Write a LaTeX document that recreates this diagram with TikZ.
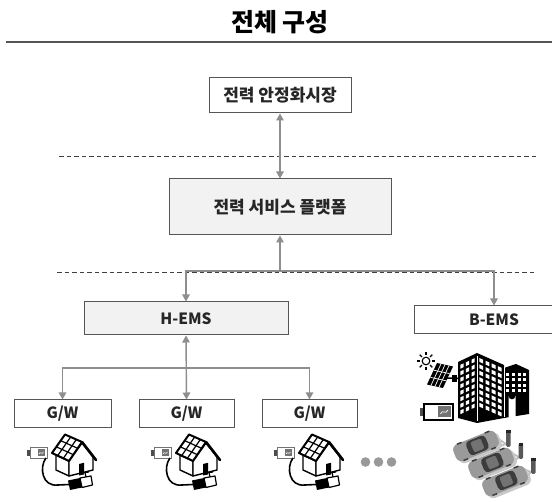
\documentclass[tikz,border=0pt]{standalone}
\usepackage{fontspec}
\setmainfont{Noto Sans CJK KR}
\usetikzlibrary{arrows.meta,calc}

\definecolor{boxline}{HTML}{555555}
\definecolor{boxfill}{HTML}{F2F2F2}
\definecolor{linkgray}{HTML}{8E8E8E}
\definecolor{dashgray}{HTML}{404040}
\definecolor{cargray}{HTML}{9A9A9A}
\definecolor{carshade}{HTML}{C8C8C8}
\definecolor{cardark}{HTML}{3C3C3C}

\tikzset{
  labelbox/.style={draw=boxline, line width=1pt, inner sep=0pt, text=black!85,
    font=\fontsize{17}{20}\selectfont\bfseries},
  latinbox/.style={labelbox, font=\fontsize{15.5}{18}\selectfont\bfseries},
  link/.style={draw=linkgray, line width=1.4pt, -{Triangle[length=7pt,width=7.5pt]}},
  twoway/.style={link, {Triangle[length=7pt,width=7.5pt]}-{Triangle[length=7pt,width=7.5pt]}},
  layer/.style={draw=dashgray, line width=1pt, dash pattern=on 4.5pt off 3pt},
  % house with solar roof, battery and plug
  homeicon/.pic={
    % battery
    \fill[black!70] (27,450.5) rectangle (30.5,456);
    \draw[black!55, line width=1pt, fill=white] (30.5,447.5) rectangle (47,458.5);
    \fill[black!55] (37.5,449.5) rectangle (45,456.5);
    \draw[white, line width=0.6pt] (39,454) .. controls (40.5,450.5) and (41.5,455.5) .. (43.5,452);
    % cable
    \draw[black, line width=1.6pt] (46,458) .. controls (39,467) and (42,487) .. (58,485) -- (69,484.5);
    % plug
    \fill[black] (68,480.5) -- (80,478) -- (82,487.5) -- (70,490) -- cycle;
    \draw[line width=1.2pt, fill=white, line join=round] (80,478) -- (91,476) -- (92.5,485) -- (82,487.5) -- cycle;
    \draw[line width=1.2pt] (86,477) -- (85,472.5) -- (89,472);
    % walls
    \draw[black, line width=1.4pt, fill=white, line join=round]
      (56,455) -- (69,461) -- (69,476) -- (56,470) -- cycle;
    \draw[black, line width=1.4pt, fill=white, line join=round]
      (69,461) -- (82,443) -- (93,457) -- (93,470) -- (69,476) -- cycle;
    \fill (79,464) -- (84,462.8) -- (84,474.5) -- (79,475.5) -- cycle;
    % solar roof
    \coordinate (e1) at (52,453); \coordinate (e2) at (69,461);
    \coordinate (r2) at (82,442); \coordinate (r1) at (65,434.5);
    \fill[white] (e1) -- (e2) -- (r2) -- (r1) -- cycle;
    \foreach \t in {0.3333,0.6667} {
      \draw[line width=1.2pt] ($(e1)!\t!(e2)$) -- ($(r1)!\t!(r2)$);
      \draw[line width=1.2pt] ($(e1)!\t!(r1)$) -- ($(e2)!\t!(r2)$);
    }
    \draw[line width=2pt, line join=round] (e1) -- (e2) -- (r2) -- (r1) -- cycle;
    \draw[line width=2.6pt, line cap=round] (r2) -- (96,460);
  },
  % electric car seen from above
  caricon/.pic={
    \fill[carshade, rounded corners=6pt] (-21,-6) rectangle (25,12);
    \fill[cargray, rounded corners=6pt] (-23,-9) rectangle (23,9);
    \fill[cardark, rounded corners=4pt] (-9,-7.5) rectangle (12,7.5);
    \fill[black!55, rounded corners=2pt] (-4,-5.5) rectangle (7,5.5);
    \fill[cardark] (-17,-9.5) rectangle (-12,-8);
    \fill[cardark] (13,-9.5) rectangle (18,-8);
    \fill[cardark] (-17,8) rectangle (-12,9.5);
    \fill[cardark] (13,8) rectangle (18,9.5);
  }
}

\begin{document}
\begin{tikzpicture}[x=1pt,y=-1pt]
\useasboundingbox (0,0) rectangle (552,502);

% heading and rule
\node (title) at (280,22) {\fontsize{25}{30}\selectfont\bfseries 전체 구성};
\draw[boxline, line width=1.5pt] (6,42) -- (552,42);

% layer separators
\draw[layer] (59,157) -- (538,157);
\draw[layer] (57,273) -- (537,273);

% boxes
\node[labelbox, fill=white, minimum width=142pt, minimum height=35pt] (mkt) at (280,95.5) {전력 안정화시장};
\node[labelbox, fill=boxfill, minimum width=222pt, minimum height=56pt] (plat) at (280,207) {전력 서비스 플랫폼};
\node[latinbox, fill=boxfill, minimum width=204pt, minimum height=33pt] (hems) at (186,318.5) {H-EMS};
\node[latinbox, fill=white, minimum width=160pt, minimum height=28pt] (bems) at (494,320) {B-EMS};
\node[latinbox, fill=white, minimum width=97pt, minimum height=28pt] (gw1) at (62.5,414) {G/W};
\node[latinbox, fill=white, minimum width=95pt, minimum height=28pt] (gw2) at (186.5,414) {G/W};
\node[latinbox, fill=white, minimum width=95pt, minimum height=28pt] (gw3) at (309.5,414) {G/W};

% connectors
\coordinate (hub) at (280,271);
\coordinate (gwhub) at (186.5,368);
\draw[twoway] (mkt.south) -- (plat.north);
\draw[link] (hub) -- (plat.south);
\draw[link] (hub) -| (hems.north);
\draw[link] (hub) -| (bems.north);
\draw[twoway] (hems.south) -- (gw2.north);
\draw[link] (gwhub) -| (gw1.north);
\draw[link] (gwhub) -| (gw3.north);

% homes
\pic at (0,0) {homeicon};
\pic at (124,0) {homeicon};
\pic at (247,0) {homeicon};

% ellipsis
\fill[black!40] (365.5,462) circle (4.8);
\fill[black!40] (378.5,462) circle (4.8);
\fill[black!40] (391.5,462) circle (4.8);

% building with sun, solar panel and battery
\draw[line width=1.1pt] (426,361) circle (3.8);
\foreach \a in {0,45,...,315}
  \draw[line width=1.1pt] ($(426,361)+(\a:5.8)$) -- ($(426,361)+(\a:9)$);
\fill (437,363) -- (453,366.5) -- (443,388) -- (427,384.5) -- cycle;
\foreach \t in {0.25,0.5,0.75}
  \draw[white, line width=0.7pt] ($(437,363)!\t!(453,366.5)$) -- ($(427,384.5)!\t!(443,388)$);
\foreach \t in {0.3333,0.6667}
  \draw[white, line width=0.7pt] ($(437,363)!\t!(427,384.5)$) -- ($(453,366.5)!\t!(443,388)$);
\draw[line width=1.5pt] (447,378) -- (458,378.5);
\fill (451.5,375) rectangle (456.5,382);

\fill (458,362) -- (477,353) -- (477,423) -- (458,418) -- cycle;
\fill (477,353) -- (504,365) -- (504,418) -- (477,423) -- cycle;
\fill (504,368) -- (516,364) -- (529,370) -- (529,414) -- (504,418) -- cycle;
\draw[white, line width=0.5pt] (477,356) -- (477,421);
\draw[white, line width=0.5pt] (504,367) -- (504,417);
\fill[white] (508.5,418) -- (508.5,396) arc[start angle=180, end angle=0, radius=3.5] -- (515.5,417) -- cycle;
\foreach \c in {0,1,2} \foreach \r in {0,...,7} {
  \pgfmathsetmacro\wx{460.3+\c*5.6}
  \pgfmathsetmacro\wy{362-0.47*(\wx-458)+4+\r*6.5}
  \fill[white] (\wx,\wy) -- ++(3.2,-1.5) -- ++(0,3.8) -- ++(-3.2,1.5) -- cycle;
}
\foreach \c in {0,1,2,3} \foreach \r in {0,...,7} {
  \pgfmathsetmacro\wx{479.3+\c*6.2}
  \pgfmathsetmacro\wy{353+0.44*(\wx-477)+4+\r*6.4}
  \fill[white] (\wx,\wy) -- ++(3.8,1.7) -- ++(0,3.8) -- ++(-3.8,-1.7) -- cycle;
}
\foreach \c in {0,1,2,3} \foreach \r in {0,...,3} {
  \pgfmathsetmacro\wx{506.3+\c*5.6}
  \pgfmathsetmacro\wy{373+\r*5.4}
  \fill[white] (\wx,\wy) rectangle ++(3,3);
}

\fill[black!70] (419.5,408) rectangle (424,416.5);
\draw[line width=1.6pt, fill=white] (424,404) rectangle (453,420);
\fill[black!55] (438,406.5) rectangle (450.5,417.5);
\draw[white, line width=0.7pt] (440.5,414) .. controls (443,408.5) and (445,415.5) .. (448,410);

% charging stations and cars
\draw[black!25, line width=1.8pt] (506,444) -- (494,436) (506,444) -- (498,447);
\draw[black!25, line width=1.8pt] (519,457) -- (508,451) (519,457) -- (512,463);
\draw[black!25, line width=1.8pt] (531,472) -- (521,468) (531,472) -- (525,479);
\fill[black!65, rounded corners=1.5pt] (506,430) rectangle (510.5,447);
\fill[black!65, rounded corners=1.5pt] (518.5,443) rectangle (523,459);
\fill[black!65, rounded corners=1.5pt] (531,458) rectangle (535.5,474);
\fill[black!85] (506,430) rectangle (510.5,433);
\fill[black!85] (518.5,443) rectangle (523,446);
\fill[black!85] (531,458) rectangle (535.5,461);
\pic[rotate=22] at (476,446) {caricon};
\pic[rotate=22] at (491,463) {caricon};
\pic[rotate=22] at (505,481) {caricon};
\end{tikzpicture}
\end{document}
